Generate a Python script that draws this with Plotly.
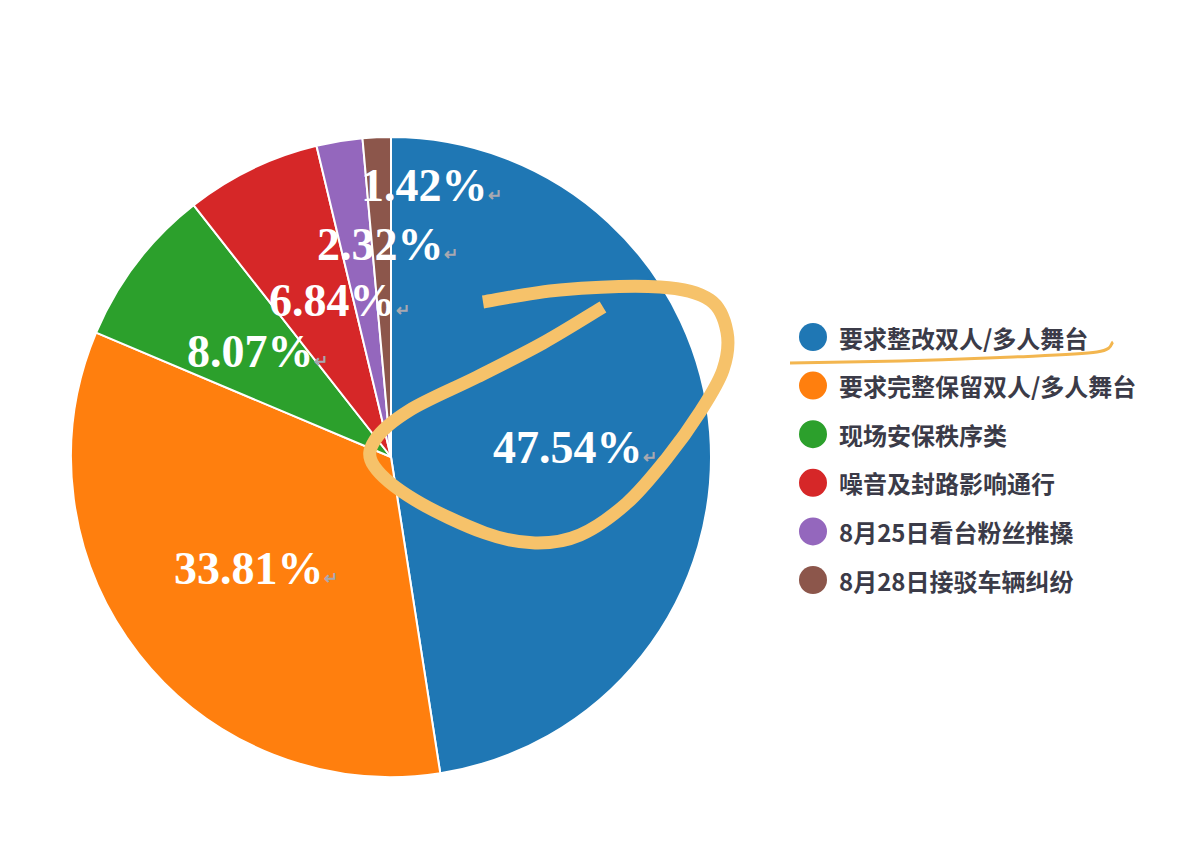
import plotly.graph_objects as go

# chart data
categories = [
    "要求整改双人/多人舞台",
    "要求完整保留双人/多人舞台",
    "现场安保秩序类",
    "噪音及封路影响通行",
    "8月25日看台粉丝推搡",
    "8月28日接驳车辆纠纷",
]
shares = [47.54, 33.81, 8.07, 6.84, 2.32, 1.42]
colors = ["#1f77b4", "#ff7f0e", "#2ca02c", "#d62728", "#9467bd", "#8c564b"]

W, H = 1197, 857
OFF = 8  # page body margin

# where the percentage labels sit (left edge / vertical centre, pixels)
label_pos = [(491, 447), (172, 568), (185, 352), (267, 300), (315, 245), (359, 185)]
# legend layout (pixels)
legend_x, legend_y0, legend_step = 813, 337, 48.6

# hand-drawn highlight (pixels)
loop_pts = [
    (483, 302), (560, 290), (660, 287), (710, 300), (727, 332), (723, 370),
    (700, 412), (667, 458), (627, 503), (580, 535), (535, 543), (485, 533),
    (415, 500), (374, 466), (375, 440), (410, 410), (477, 377), (543, 343),
    (603, 307),
]
underline_pts = [(790, 363), (900, 361), (1013, 357), (1097, 352), (1113, 342)]


def to_paper(x, y):
    return (x - OFF) / W, 1 - (y - OFF) / H


def smooth_path(pts):
    # catmull-rom -> cubic bezier, in paper coords
    p = [to_paper(*q) for q in pts]
    d = "M {:.5f},{:.5f}".format(*p[0])
    for i in range(len(p) - 1):
        p0 = p[i - 1] if i > 0 else p[i]
        p1, p2 = p[i], p[i + 1]
        p3 = p[i + 2] if i + 2 < len(p) else p2
        c1 = (p1[0] + (p2[0] - p0[0]) / 6, p1[1] + (p2[1] - p0[1]) / 6)
        c2 = (p2[0] - (p3[0] - p1[0]) / 6, p2[1] - (p3[1] - p1[1]) / 6)
        d += " C {:.5f},{:.5f} {:.5f},{:.5f} {:.5f},{:.5f}".format(*c1, *c2, *p2)
    return d


x0, y_top = to_paper(71, 137)
x1, y_bot = to_paper(711, 777)

fig = go.Figure(
    go.Pie(
        labels=categories,
        values=shares,
        sort=False,
        direction="clockwise",
        rotation=0,
        marker=dict(colors=colors, line=dict(color="white", width=2)),
        textinfo="none",
        hoverinfo="label+value",
        showlegend=False,
        domain=dict(x=[x0, x1], y=[y_bot, y_top]),
    )
)

# percentage labels
for v, (x, y) in zip(shares, label_pos):
    px_, py_ = to_paper(x, y)
    fig.add_annotation(
        x=px_, y=py_, xref="paper", yref="paper",
        xanchor="left", yanchor="middle", showarrow=False,
        text=f"{v:.2f}%<span style='font-size:17px;color:#a8a8b0'>↵</span>",
        font=dict(family="Liberation Serif", size=46, color="white", weight="bold"),
    )

# legend: circles + text
for i, (name, c) in enumerate(zip(categories, colors)):
    cy = legend_y0 + i * legend_step
    ax, ay = to_paper(legend_x, cy)
    fig.add_shape(
        type="circle", xref="paper", yref="paper",
        xsizemode="pixel", ysizemode="pixel", xanchor=ax, yanchor=ay,
        x0=-14, x1=14, y0=-14, y1=14,
        fillcolor=c, line=dict(width=0),
    )
    tx, ty = to_paper(legend_x + 24, cy)
    fig.add_annotation(
        x=tx, y=ty, xref="paper", yref="paper",
        xanchor="left", yanchor="middle", showarrow=False,
        text=name,
        font=dict(family="Noto Sans CJK SC", size=24, color="#3b3b48", weight="bold"),
    )

# yellow hand-drawn marks
fig.add_shape(
    type="path", xref="paper", yref="paper", path=smooth_path(loop_pts),
    line=dict(color="#f6c26a", width=13),
)
fig.add_shape(
    type="path", xref="paper", yref="paper", path=smooth_path(underline_pts),
    line=dict(color="#f3b64f", width=3),
)

fig.update_layout(
    width=W,
    height=H,
    margin=dict(l=0, r=0, t=0, b=0),
    paper_bgcolor="white",
    plot_bgcolor="white",
)

fig.write_html("out.html")
